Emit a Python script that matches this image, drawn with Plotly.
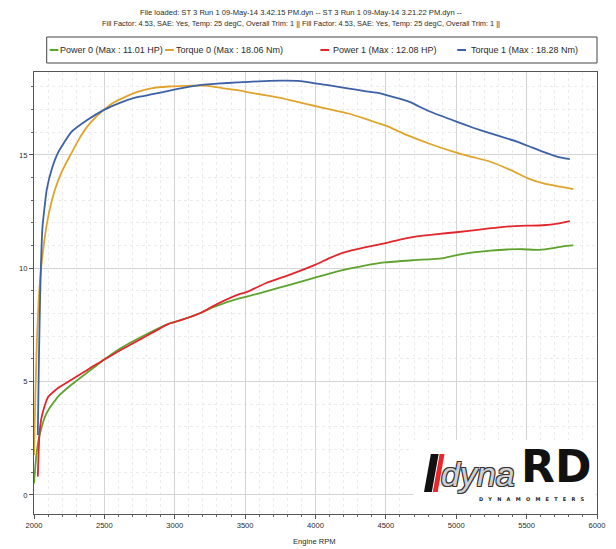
import plotly.graph_objects as go

# ---------------- data ----------------
rpm_p0 = [2000, 2010, 2021, 2035, 2055, 2078, 2102, 2171, 2263, 2378, 2425, 2494, 2610, 2771,
          2956, 3048, 3187, 3279, 3464, 3511, 3650, 3810, 3996, 4200, 4350, 4490, 4700, 4897,
          5000, 5120, 5243, 5360, 5474, 5590, 5700, 5760, 5832]
power0 = [0.51, 1.3, 1.98, 2.5, 3.01, 3.45, 3.75, 4.34, 4.85, 5.4, 5.62, 5.95, 6.45, 7.0,
          7.55, 7.72, 8.04, 8.3, 8.68, 8.75, 8.98, 9.26, 9.59, 9.93, 10.12, 10.26, 10.36, 10.44,
          10.58, 10.7, 10.78, 10.83, 10.84, 10.81, 10.9, 10.97, 11.01]

rpm_t0 = [2000, 2010, 2021, 2035, 2050, 2075, 2105, 2148, 2200, 2263, 2320, 2378, 2435, 2494,
          2550, 2610, 2725, 2841, 2956, 3070, 3187, 3240, 3348, 3450, 3535, 3650, 3766, 3880,
          3996, 4110, 4227, 4350, 4434, 4504, 4664, 4830, 5001, 5120, 5243, 5380, 5509, 5634,
          5740, 5832]
torque0 = [1.76, 4.5, 6.9, 8.8, 10.0, 11.3, 12.4, 13.45, 14.3, 15.05, 15.7, 16.25, 16.65, 16.98,
           17.25, 17.45, 17.76, 17.95, 18.02, 18.05, 18.06, 18.05, 17.94, 17.86, 17.75, 17.63, 17.5, 17.33,
           17.16, 17.0, 16.84, 16.6, 16.42, 16.28, 15.84, 15.45, 15.1, 14.9, 14.7, 14.35, 13.97, 13.72,
           13.6, 13.49]

rpm_p1 = [2027, 2033, 2039, 2050, 2067, 2085, 2102, 2171, 2263, 2378, 2425, 2494, 2610, 2771,
          2956, 3048, 3187, 3300, 3464, 3511, 3650, 3810, 3996, 4100, 4204, 4350, 4490, 4600,
          4712, 4850, 5000, 5180, 5357, 5500, 5614, 5720, 5807]
power1 = [0.81, 1.9, 2.73, 3.3, 3.75, 4.1, 4.34, 4.72, 5.07, 5.51, 5.7, 5.95, 6.37, 6.92,
          7.55, 7.72, 8.04, 8.42, 8.87, 8.95, 9.35, 9.7, 10.15, 10.45, 10.7, 10.92, 11.1, 11.27,
          11.4, 11.5, 11.59, 11.72, 11.84, 11.88, 11.9, 11.97, 12.08]

rpm_t1 = [2027, 2035, 2044, 2060, 2090, 2125, 2171, 2263, 2378, 2494, 2610, 2725, 2841, 2956,
          3070, 3187, 3300, 3450, 3600, 3750, 3880, 3996, 4100, 4227, 4350, 4434, 4504, 4664,
          4800, 5001, 5120, 5243, 5426, 5530, 5634, 5720, 5807]
torque1 = [2.65, 6.0, 8.9, 11.8, 13.45, 14.35, 15.1, 16.0, 16.54, 16.98, 17.3, 17.54, 17.68, 17.83,
           17.97, 18.09, 18.15, 18.2, 18.25, 18.28, 18.27, 18.16, 18.07, 17.94, 17.82, 17.75, 17.64, 17.35,
           16.95, 16.47, 16.2, 15.95, 15.6, 15.35, 15.1, 14.92, 14.82]

series_names = ["Power 0 (Max : 11.01 HP)", "Torque 0 (Max : 18.06 Nm)",
                "Power 1 (Max : 12.08 HP)", "Torque 1 (Max : 18.28 Nm)"]
series_colors = ["#5ea32e", "#e0a42c", "#e2262c", "#3c61a6"]

x_ticks = [2000, 2500, 3000, 3500, 4000, 4500, 5000, 5500, 6000]
y_ticks = [0, 5, 10, 15]

title_line1 = "File loaded: ST 3 Run 1 09-May-14 3.42.15 PM.dyn -- ST 3 Run 1 09-May-14 3.21.22 PM.dyn --"
title_line2 = "Fill Factor: 4.53, SAE: Yes, Temp: 25 degC, Overall Trim: 1 || Fill Factor: 4.53, SAE: Yes, Temp: 25 degC, Overall Trim: 1 ||"

# ---------------- layout geometry (page pixels) ----------------
OFF = 8                      # default body margin of the html page
PAGE_W, PAGE_H = 616, 549
W, H = PAGE_W - OFF, PAGE_H - OFF
PLOT_L, PLOT_R, PLOT_T, PLOT_B = 29, 605, 72, 514   # plot box in page pixels
L = PLOT_L - OFF
T = PLOT_T - OFF
R = W - (PLOT_R - OFF)
B = H - (PLOT_B - OFF)
PW, PH = W - L - R, H - T - B

def px(x):
    return (x - OFF - L) / PW

def py(y):
    return (H - B - (y - OFF)) / PH

FONT = "Liberation Sans, Arial, sans-serif"
TXT = "#2a2a2a"

fig = go.Figure()
for xs, ys, name, col in zip([rpm_p0, rpm_t0, rpm_p1, rpm_t1],
                             [power0, torque0, power1, torque1],
                             series_names, series_colors):
    fig.add_trace(go.Scatter(x=xs, y=ys, mode="lines", name=name,
                             line=dict(color=col, width=1.8, shape="spline", smoothing=0.4),
                             showlegend=False))

shapes = []
annotations = []

# manual legend box
shapes.append(dict(type="rect", xref="paper", yref="paper",
                   x0=px(42), x1=px(605), y0=py(63), y1=py(37),
                   line=dict(color="#444444", width=1), fillcolor="white", layer="above"))
leg_line_x = [45, 163, 322, 462]
leg_text_x = [54, 172, 333, 474]
for lx, tx, name, col in zip(leg_line_x, leg_text_x, series_names, series_colors):
    shapes.append(dict(type="line", xref="paper", yref="paper",
                       x0=px(lx), x1=px(lx + 9), y0=py(50), y1=py(50),
                       line=dict(color=col, width=2)))
    annotations.append(dict(text=name, xref="paper", yref="paper", x=px(tx), y=py(50),
                            xanchor="left", yanchor="middle", showarrow=False,
                            font=dict(family=FONT, size=9, color=TXT)))

# title lines
annotations.append(dict(text=title_line1, xref="paper", yref="paper", x=px(302), y=py(12.5),
                        xanchor="center", yanchor="middle", showarrow=False,
                        font=dict(family=FONT, size=7.6, color=TXT)))
annotations.append(dict(text=title_line2, xref="paper", yref="paper", x=px(302), y=py(23.5),
                        xanchor="center", yanchor="middle", showarrow=False,
                        font=dict(family=FONT, size=7.4, color=TXT)))

# logo: white panel
shapes.append(dict(type="rect", xref="paper", yref="paper",
                   x0=px(417), x1=px(604), y0=py(513), y1=py(440),
                   line=dict(width=0), fillcolor="white", layer="above"))

def para(xt0, xt1, xb0, xb1, yt, yb):
    return "M {} {} L {} {} L {} {} L {} {} Z".format(px(xt0), py(yt), px(xt1), py(yt),
                                                      px(xb1), py(yb), px(xb0), py(yb))

shapes.append(dict(type="path", xref="paper", yref="paper",
                   path=para(435, 443, 428, 436, 454, 492),
                   fillcolor="#111111", line=dict(width=0), layer="above"))
shapes.append(dict(type="path", xref="paper", yref="paper",
                   path=para(444, 449, 437, 442, 454, 492),
                   fillcolor="#e8262b", line=dict(width=0), layer="above"))
annotations.append(dict(text="<i>dyna</i>", xref="paper", yref="paper", x=px(443), y=py(474),
                        xanchor="left", yanchor="middle", showarrow=False,
                        font=dict(family="Liberation Sans, Arial, sans-serif", size=34, color="#d0d0d0",
                                  shadow="-1px -1px 0 #333, 1px -1px 0 #333, -1px 1px 0 #333, 1px 1px 0 #333")))
annotations.append(dict(text="<b>RD</b>", xref="paper", yref="paper", x=px(525), y=py(466),
                        xanchor="left", yanchor="middle", showarrow=False,
                        font=dict(family="DejaVu Sans, sans-serif", size=44, color="#111111")))
annotations.append(dict(text="<b>D   Y   N   A   M   O   M   E   T   E   R   S</b>", xref="paper", yref="paper",
                        x=px(539), y=py(498.5), xanchor="center", yanchor="middle", showarrow=False,
                        font=dict(family="DejaVu Sans, sans-serif", size=5, color="#222222")))

# axis title
annotations.append(dict(text="Engine RPM", xref="paper", yref="paper", x=px(316), y=py(541),
                        xanchor="center", yanchor="middle", showarrow=False,
                        font=dict(family=FONT, size=7.6, color=TXT)))

axis_common = dict(showline=True, linecolor="#555555", linewidth=1.2, mirror=True,
                   showgrid=True, gridcolor="#d4d4d4", gridwidth=1, zeroline=False,
                   ticks="outside", ticklen=4, tickcolor="#555555",
                   tickfont=dict(family=FONT, size=7.6, color=TXT))

fig.update_layout(
    width=W, height=H,
    margin=dict(l=L, r=R, t=T, b=B, pad=0),
    paper_bgcolor="white", plot_bgcolor="white",
    showlegend=False,
    xaxis=dict(range=[2000, 6000], tickvals=x_ticks, ticktext=[str(v) for v in x_ticks],
               minor=dict(dtick=100, showgrid=True, gridcolor="#ececec", griddash="dot",
                          ticks="outside", ticklen=2, tickcolor="#666666"),
               **axis_common),
    yaxis=dict(range=[-0.84, 18.66], tickvals=y_ticks, ticktext=[str(v) for v in y_ticks],
               minor=dict(dtick=1, showgrid=True, gridcolor="#ececec", griddash="dot",
                          ticks="outside", ticklen=2, tickcolor="#666666"),
               **axis_common),
    shapes=shapes,
    annotations=annotations,
)

fig.write_html("out.html")
